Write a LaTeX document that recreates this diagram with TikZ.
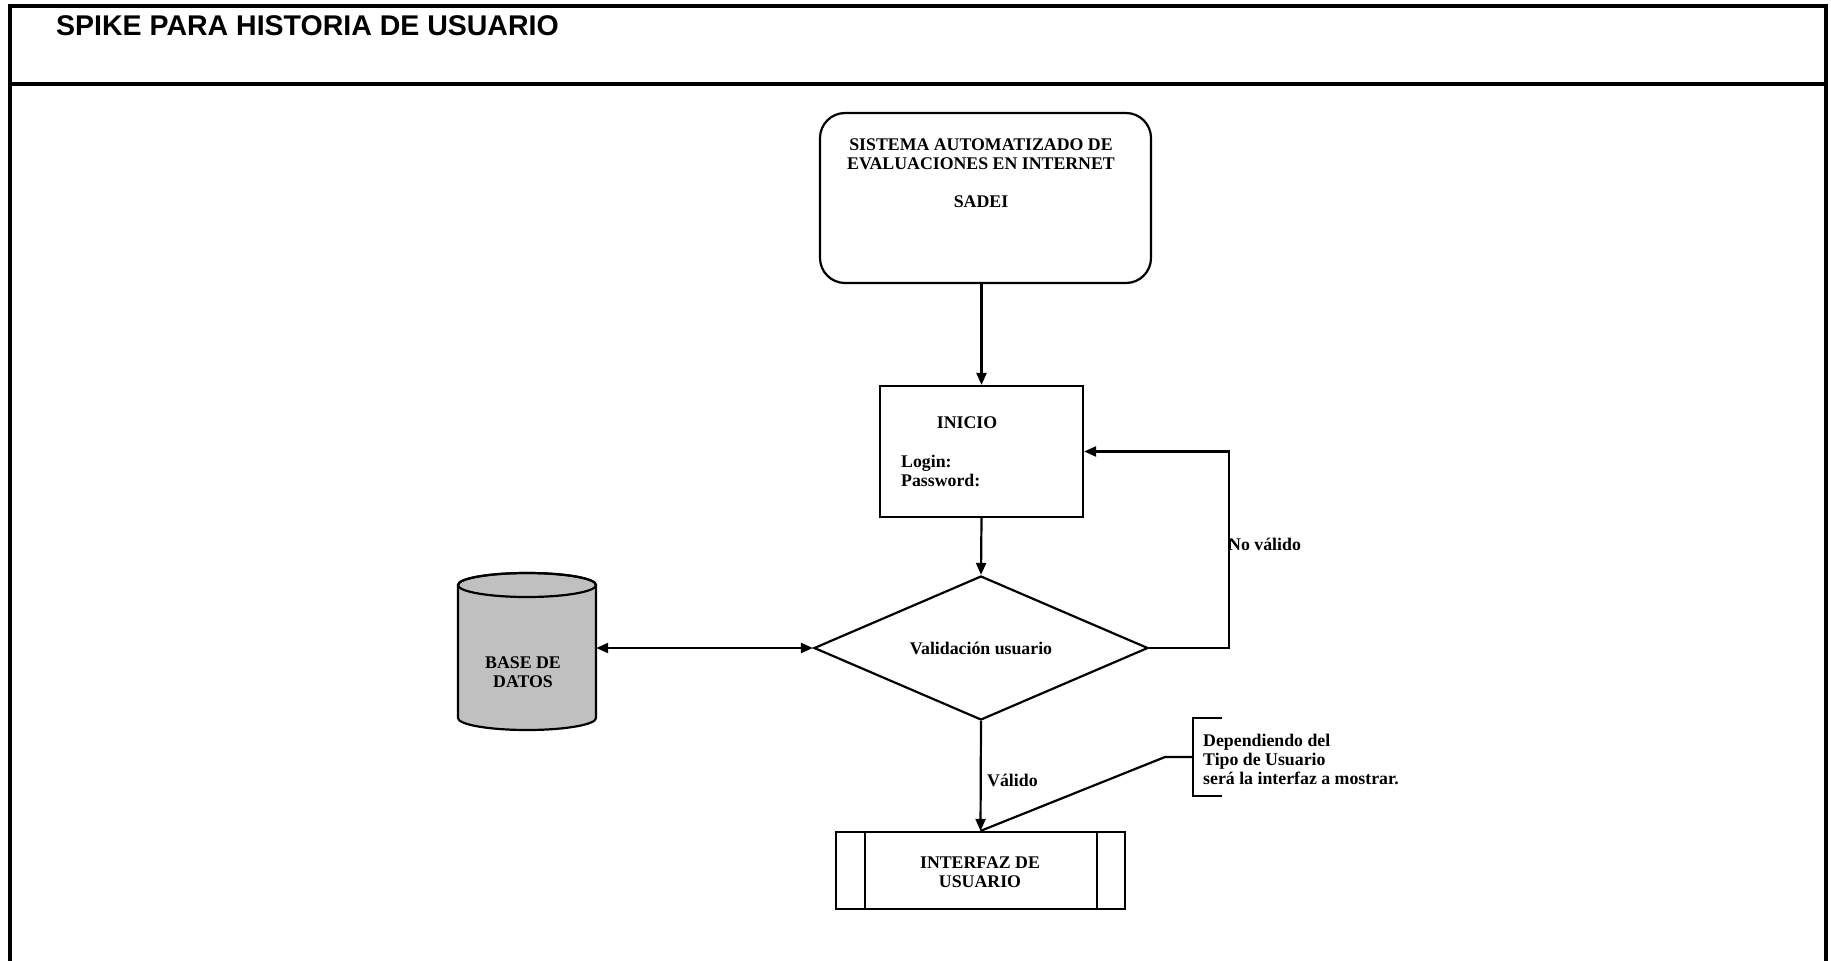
\documentclass[tikz,border=0pt]{standalone}
\usepackage{fontspec}
\setmainfont{Liberation Serif}
\newfontfamily\headfont{Liberation Sans}
\usetikzlibrary{shapes.geometric,arrows.meta}
\definecolor{dbgray}{RGB}{192,192,192}

\begin{document}
\begin{tikzpicture}[
    x=1pt, y=1pt,
    every node/.style={font=\fontsize{17.8}{19}\selectfont\bfseries, inner sep=0pt},
    title/.style={font=\headfont\fontsize{28.5}{30}\selectfont\bfseries},
    box/.style={draw, line width=2.2pt},
    frame/.style={line width=4pt},
    arr/.style={->, >={Triangle[length=12pt,width=10pt]}, line width=2.2pt}
]
\useasboundingbox (0,0) rectangle (1831,-961);

% Frame and header
\draw[frame] (10,-961) -- (10,-6) -- (1826,-6) -- (1826,-961);
\draw[frame] (10,-84) -- (1826,-84);
\node[title, anchor=base west] (titulo) at (56,-35) {SPIKE PARA HISTORIA DE USUARIO};

% Sistema
\node[box, rounded corners=25pt, minimum width=331pt, minimum height=170pt] (sadei) at (985.5,-198) {};
\node[align=center] (sadei_t) at (981,-173) {SISTEMA AUTOMATIZADO DE\\EVALUACIONES EN INTERNET\\[19pt]SADEI};

% Inicio
\node[box, minimum width=203pt, minimum height=131pt] (inicio) at (981.5,-451.5) {};
\node (inicio_t) at (967,-423) {INICIO};
\node[align=left, anchor=west] (login) at (901,-471) {Login:\\Password:};

% Validacion
\node[box, diamond, aspect=2.3, minimum width=334pt, minimum height=144pt] (val) at (981,-648) {Validación usuario};

% Base de datos
\draw[box, fill=dbgray] (458,-585) -- (458,-718)
    arc[start angle=180, end angle=360, x radius=69pt, y radius=12pt]
    -- (596,-585) arc[start angle=0, end angle=180, x radius=69pt, y radius=12pt] -- cycle;
\draw[box] (527,-585) ellipse[x radius=69pt, y radius=12pt];
\node[minimum width=138pt, minimum height=157pt] (db) at (527,-651.5) {};
\node[align=center] (db_t) at (523,-672) {BASE DE\\DATOS};

% Interfaz
\node[box, minimum width=289pt, minimum height=77pt] (iface) at (980.5,-870.5) {};
\draw[box] ([xshift=30pt]iface.north west) -- ([xshift=30pt]iface.south west);
\draw[box] ([xshift=-29pt]iface.north east) -- ([xshift=-29pt]iface.south east);
\node[align=center] (iface_t) at (980,-872.5) {INTERFAZ DE\\USUARIO};

% Conectores
\draw[arr] (inicio.north |- sadei.south) -- (inicio.north);
\draw[arr] (inicio.south) -- (val.north);
\draw[arr] (val.east) -- ++(80,0) |- (inicio.east);
\node[anchor=west] (novalido) at (1228,-544) {No válido};
\draw[arr, <->] (db.east |- val.west) -- (val.west);
\draw[arr] (val.south) -- (iface.north);
\node[anchor=west] (valido) at (987,-780) {Válido};

% Nota
\node[align=left, anchor=west] (nota) at (1203,-759) {Dependiendo del\\Tipo de Usuario\\será la interfaz a mostrar.};
\draw[line width=2.2pt] (1222,-718) -| (1193,-796) -- (1222,-796);
\draw[line width=2.2pt] (1193,-757) -- (1165,-757) -- (iface.north);
\end{tikzpicture}
\end{document}
